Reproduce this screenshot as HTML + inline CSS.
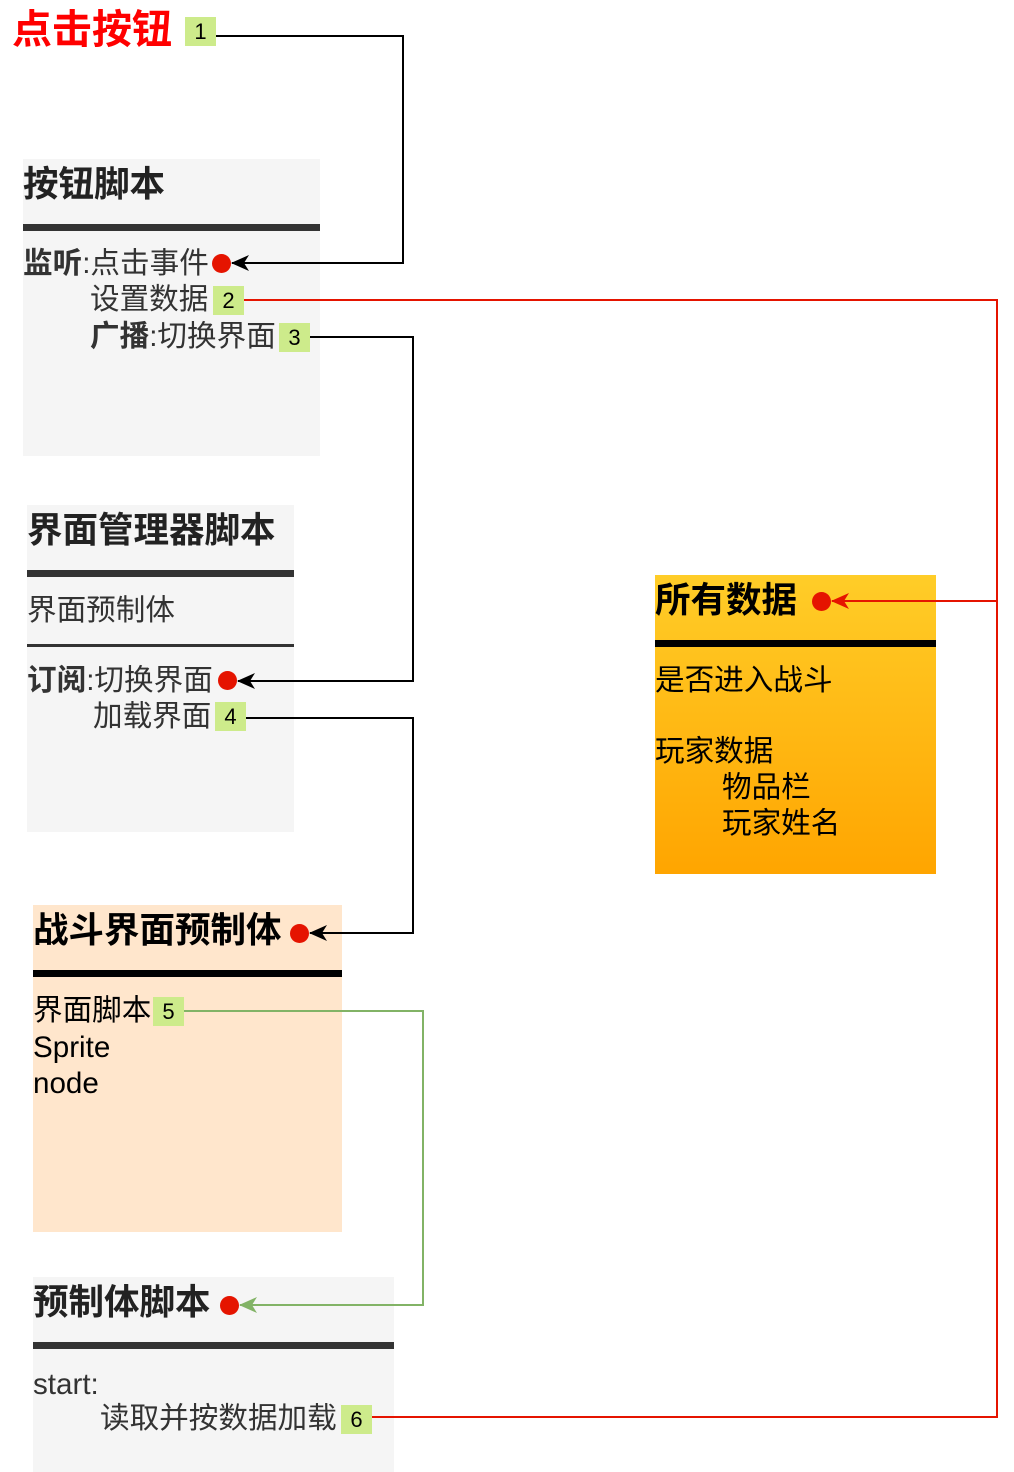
<!DOCTYPE html>
<html><head><meta charset="utf-8"><style>
body{margin:0;width:1014px;height:1472px;position:relative;background:#fff;overflow:hidden;font-family:"Liberation Sans","Noto Sans CJK SC",sans-serif;}
.a{position:absolute;white-space:nowrap;line-height:1;}
.box{position:absolute;}
.t{font-size:35.5px;font-weight:bold;color:#222;}
.x{font-size:29.6px;color:#333;}
.b{position:absolute;background:#cdeb8b;font-size:22px;color:#000;text-align:center;line-height:29px;width:31px;height:29px;}
.d{position:absolute;height:7px;background:#333;}
.dot{position:absolute;width:19px;height:19px;border-radius:50%;background:#e51400;}
</style></head><body>
<div class="box" style="left:23px;top:159px;width:297px;height:297px;background:#f5f5f5"></div>
<div class="box" style="left:27px;top:505px;width:267px;height:327px;background:#f5f5f5"></div>
<div class="box" style="left:33px;top:905px;width:309px;height:327px;background:#ffe6cc"></div>
<div class="box" style="left:33px;top:1277px;width:361px;height:195px;background:#f5f5f5"></div>
<div class="box" style="left:655px;top:575px;width:281px;height:299px;background:linear-gradient(#ffcd28,#ffa500)"></div>

<svg style="position:absolute;left:0;top:0" width="1014" height="1472">
<defs>
<marker id="k" markerWidth="18" markerHeight="16" refX="17" refY="8" orient="auto" markerUnits="userSpaceOnUse"><path d="M0,0 L18,8 L0,16 L5,8z" fill="#000"/></marker>
<marker id="r" markerWidth="18" markerHeight="16" refX="17" refY="8" orient="auto" markerUnits="userSpaceOnUse"><path d="M0,0 L18,8 L0,16 L5,8z" fill="#e51400"/></marker>
<marker id="g" markerWidth="18" markerHeight="16" refX="17" refY="8" orient="auto" markerUnits="userSpaceOnUse"><path d="M0,0 L18,8 L0,16 L5,8z" fill="#82b366"/></marker>
</defs>
<g fill="none" stroke-width="2">
<polyline points="216,36 403,36 403,263 232,263" stroke="#000" marker-end="url(#k)"/>
<polyline points="310,337 413,337 413,681 238,681" stroke="#000" marker-end="url(#k)"/>
<polyline points="246,718 413,718 413,933 310,933" stroke="#000" marker-end="url(#k)"/>
<polyline points="184,1011 423,1011 423,1305 240,1305" stroke="#82b366" marker-end="url(#g)"/>
<polyline points="244,300 997,300 997,601 832,601" stroke="#e51400" marker-end="url(#r)"/>
<polyline points="372,1417 997,1417 997,601" stroke="#e51400"/>
</g></svg>

<div class="a" style="left:12px;top:10px;font-size:40px;font-weight:bold;color:#ff0000">点击按钮</div>
<div class="b" style="left:185px;top:17px">1</div>

<div class="a t" style="left:23px;top:167px">按钮脚本</div>
<div class="d" style="left:23px;top:224px;width:297px"></div>
<div class="a x" style="left:23px;top:249px"><b>监听</b>:点击事件</div>
<div class="dot" style="left:212px;top:254px"></div>
<div class="a x" style="left:90px;top:285px">设置数据</div>
<div class="b" style="left:213px;top:286px">2</div>
<div class="a x" style="left:90px;top:322px"><b>广播</b>:切换界面</div>
<div class="b" style="left:279px;top:323px">3</div>

<div class="a t" style="left:27px;top:513px">界面管理器脚本</div>
<div class="d" style="left:27px;top:570px;width:267px"></div>
<div class="a x" style="left:27px;top:596px">界面预制体</div>
<div class="d" style="left:27px;top:644px;width:267px;height:3px"></div>
<div class="a x" style="left:27px;top:666px"><b>订阅</b>:切换界面</div>
<div class="dot" style="left:218px;top:671px"></div>
<div class="a x" style="left:93px;top:702px">加载界面</div>
<div class="b" style="left:215px;top:702px">4</div>

<div class="a t" style="left:33px;top:913px;color:#000">战斗界面预制体</div>
<div class="dot" style="left:290px;top:924px"></div>
<div class="d" style="left:33px;top:970px;width:309px;background:#000"></div>
<div class="a x" style="left:33px;top:996px;color:#000">界面脚本</div>
<div class="b" style="left:153px;top:997px">5</div>
<div class="a x" style="left:33px;top:1033px;color:#000">Sprite</div>
<div class="a x" style="left:33px;top:1069px;color:#000">node</div>

<div class="a t" style="left:33px;top:1285px">预制体脚本</div>
<div class="dot" style="left:220px;top:1296px"></div>
<div class="d" style="left:33px;top:1342px;width:361px"></div>
<div class="a x" style="left:33px;top:1370px">start:</div>
<div class="a x" style="left:100px;top:1404px">读取并按数据加载</div>
<div class="b" style="left:341px;top:1405px">6</div>

<div class="a t" style="left:655px;top:583px;color:#000">所有数据</div>
<div class="dot" style="left:812px;top:592px"></div>
<div class="d" style="left:655px;top:640px;width:281px;background:#000"></div>
<div class="a x" style="left:655px;top:666px;color:#000">是否进入战斗</div>
<div class="a x" style="left:655px;top:737px;color:#000">玩家数据</div>
<div class="a x" style="left:722px;top:773px;color:#000">物品栏</div>
<div class="a x" style="left:722px;top:809px;color:#000">玩家姓名</div>
</body></html>
